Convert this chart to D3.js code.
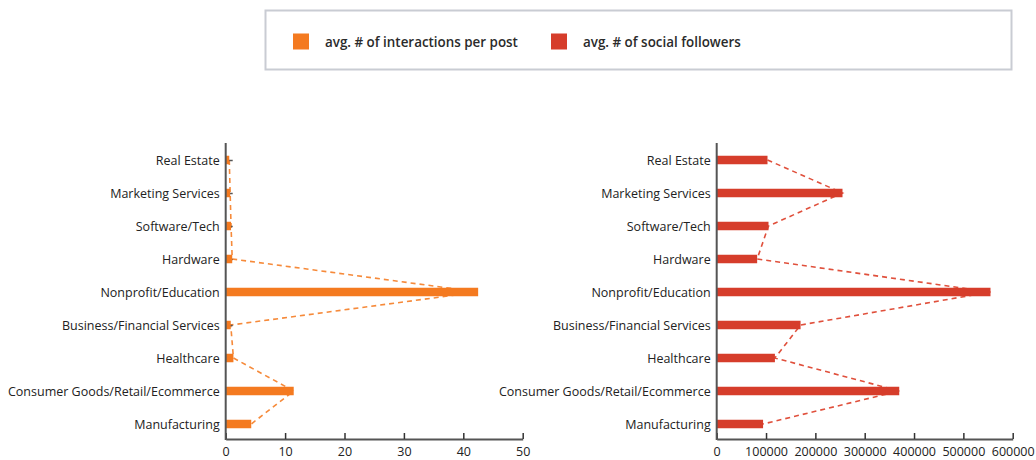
<!DOCTYPE html>
<html>
<head>
<meta charset="utf-8">
<script src="https://cdn.jsdelivr.net/npm/d3@7"></script>
<style>
  html, body { margin: 0; padding: 0; background: #fff; }
  svg { display: block; font-family: "Open Sans", sans-serif; }
</style>
</head>
<body>
<svg id="chart" width="1036" height="460"></svg>
<script>
const categories = [
  "Real Estate",
  "Marketing Services",
  "Software/Tech",
  "Hardware",
  "Nonprofit/Education",
  "Business/Financial Services",
  "Healthcare",
  "Consumer Goods/Retail/Ecommerce",
  "Manufacturing"
];
const interactions = [0.6, 0.75, 0.9, 1.1, 42.5, 0.85, 1.3, 11.45, 4.3];
const followers = [103000, 255000, 105000, 82000, 555000, 170000, 118000, 370000, 94000];
const interactionTicks = [0, 10, 20, 30, 40, 50];
const followerTicks = [0, 100000, 200000, 300000, 400000, 500000, 600000];
const seriesNames = ["avg. # of interactions per post", "avg. # of social followers"];
const barColors = ["#f47a20", "#d63d2b"];
const lineColors = ["#f68a3a", "#e0503c"];

const svg = d3.select("#chart");
const labelSize = 12.5;

// legend
const legend = svg.append("g");
legend.append("rect")
  .attr("x", 265.5).attr("y", 10.5).attr("width", 746).attr("height", 59)
  .attr("fill", "#fff").attr("stroke", "#c9ccd3").attr("stroke-width", 2);
const legendX = [293, 551];
seriesNames.forEach((name, i) => {
  legend.append("rect")
    .attr("x", legendX[i]).attr("y", 33.5).attr("width", 16).attr("height", 16)
    .attr("fill", barColors[i]);
  legend.append("text")
    .attr("x", legendX[i] + 32).attr("y", 42).attr("dy", "0.35em")
    .attr("font-size", 13.4).attr("font-weight", 600).attr("fill", "#2b2b2b")
    .text(name);
});

const y = d3.scalePoint().domain(categories).range([160, 424]);
const barH = 8.5;
const axisY = 439;

function panel(values, domainMax, x0, x1, ticks, barColor, lineColor, fmt) {
  const x = d3.scaleLinear().domain([0, domainMax]).range([x0, x1]);
  const g = svg.append("g");

  // dashed connecting line behind bars
  const line = d3.line().x(d => x(d[1])).y(d => y(d[0]));
  g.append("path")
    .datum(categories.map((c, i) => [c, values[i]]))
    .attr("d", line)
    .attr("fill", "none")
    .attr("stroke", lineColor)
    .attr("stroke-width", 1.6)
    .attr("stroke-dasharray", "5,4");

  // y axis
  const yAxis = d3.axisLeft(y).tickSizeInner(-7).tickSizeOuter(0).tickPadding(6);
  const ya = g.append("g").attr("transform", `translate(${x0},0)`).call(yAxis);
  ya.select(".domain").remove();
  ya.selectAll(".tick line").attr("stroke", "#555").attr("stroke-width", 1.5);
  ya.selectAll(".tick text").attr("font-size", labelSize).attr("fill", "#222")
    .style("font-family", "'Open Sans', sans-serif");

  // bars
  g.selectAll("rect.bar")
    .data(categories.map((c, i) => [c, values[i]]))
    .join("rect")
    .attr("class", "bar")
    .attr("x", x(0))
    .attr("y", d => y(d[0]) - barH / 2)
    .attr("width", d => x(d[1]) - x(0))
    .attr("height", barH)
    .attr("fill", barColor);

  // x axis
  const xAxis = d3.axisBottom(x).tickValues(ticks).tickSizeInner(-6).tickSizeOuter(0)
    .tickPadding(8).tickFormat(fmt);
  const xa = g.append("g").attr("transform", `translate(0,${axisY})`).call(xAxis);
  xa.select(".domain").attr("stroke", "#555").attr("stroke-width", 2);
  xa.selectAll(".tick line").attr("stroke", "#333").attr("stroke-width", 1.5);
  xa.selectAll(".tick text").attr("font-size", labelSize).attr("fill", "#222")
    .style("font-family", "'Open Sans', sans-serif");

  // vertical axis line
  g.append("line")
    .attr("x1", x0).attr("x2", x0).attr("y1", 143).attr("y2", axisY + 1)
    .attr("stroke", "#555").attr("stroke-width", 2);
}

panel(interactions, 50, 225.7, 522.7, interactionTicks, barColors[0], lineColors[0], d3.format("d"));
panel(followers, 600000, 716.7, 1012.7, followerTicks, barColors[1], lineColors[1], d3.format("d"));
</script>
</body>
</html>
